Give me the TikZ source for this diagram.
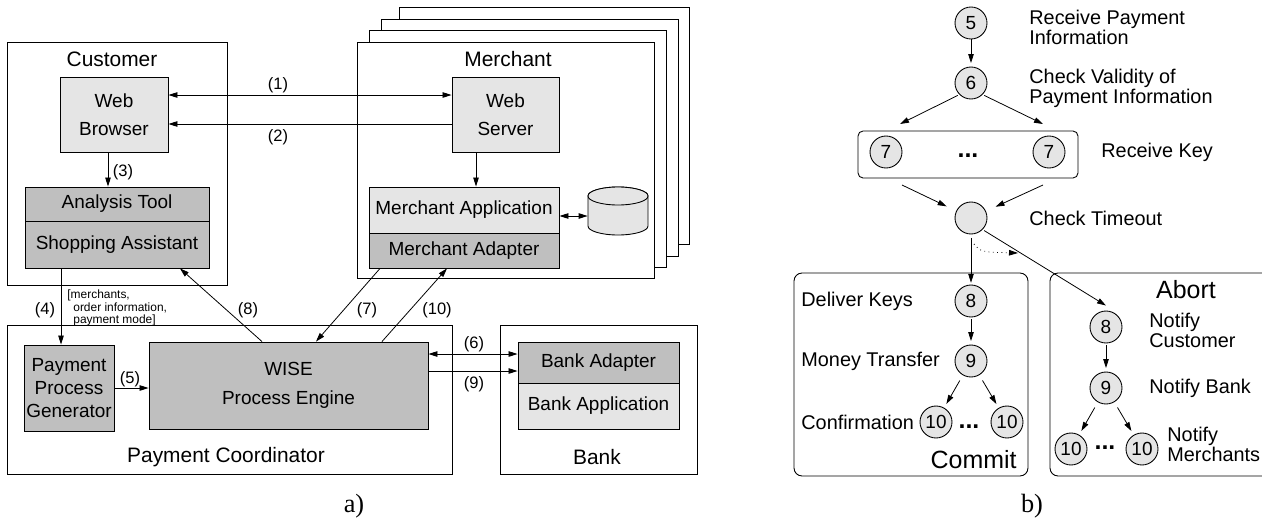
\documentclass[tikz,border=0pt]{standalone}
\usepackage{fontspec}
\setmainfont{Liberation Sans}
\newfontfamily\subfigfont{Liberation Serif}
\usetikzlibrary{arrows.meta}

\definecolor{boxlight}{gray}{0.9}
\definecolor{boxdark}{gray}{0.75}

\newcommand{\fsTitle}{\fontsize{11.9}{14}\selectfont}
\newcommand{\fsBox}{\fontsize{10.8}{16}\selectfont}
\newcommand{\fsStep}{\fontsize{9.4}{11}\selectfont}
\newcommand{\fsNote}{\fontsize{6.8}{7.1}\selectfont}
\newcommand{\fsFlow}{\fontsize{11.3}{11.4}\selectfont}
\newcommand{\fsBig}{\fontsize{14.2}{16}\selectfont}
\newcommand{\fsSub}{\fontsize{15}{17}\selectfont}

\tikzset{
  boxsize/.style 2 args={minimum width=#1, minimum height=#2},
  outerbox/.style={draw, line width=0.5pt, fill=white, inner sep=0pt},
  lightbox/.style={draw, line width=0.5pt, fill=boxlight, inner sep=0pt, font=\fsBox, align=center},
  darkbox/.style={draw, line width=0.5pt, fill=boxdark, inner sep=0pt, font=\fsBox, align=center},
  roundbox/.style={draw, line width=0.5pt, inner sep=0pt},
  steplbl/.style={font=\fsStep, inner sep=0pt},
  notelbl/.style={font=\fsNote, inner sep=0pt, align=left, anchor=west},
  stepnode/.style={circle, draw, line width=0.5pt, fill=boxlight, minimum size=0.64cm, inner sep=0pt, font=\fsBox},
  flowlbl/.style={font=\fsFlow, inner sep=0pt, align=left, anchor=west},
  dotslbl/.style={font=\fsBig\bfseries, inner sep=0pt}
}

\begin{document}
\begin{tikzpicture}[x=0.02cm, y=-0.02cm, >={Triangle[length=1.8mm, width=1.1mm]}, line width=0.45pt]
  \useasboundingbox (0,0) rectangle (1262,521);

  % Customer
  \node[outerbox, boxsize={4.4cm}{4.86cm}] (customer) at (117,163.5) {};
  \node[font=\fsTitle] (customertitle) at (112,59) {Customer};
  \node[lightbox, boxsize={2.16cm}{1.5cm}] (browser) at (114,114.5) {Web\\Browser};
  \node[darkbox, boxsize={3.68cm}{0.68cm}] (tool) at (117,204) {Analysis Tool};
  \node[darkbox, boxsize={3.68cm}{0.94cm}] (assistant) at (117,244.5) {Shopping Assistant};

  % Merchant (stacked)
  \foreach \i/\cx/\cy/\w in {4/544/125.5/5.8, 3/529.5/137.5/5.94, 2/517.5/149/5.94}
    \node[outerbox, boxsize={\w cm}{4.74cm}] (stack\i) at (\cx,\cy) {};
  \node[outerbox, boxsize={5.94cm}{4.72cm}] (merchant) at (505.5,160) {};
  \node[font=\fsTitle] (merchanttitle) at (508,59) {Merchant};
  \node[lightbox, boxsize={2.14cm}{1.5cm}] (server) at (505.5,114.5) {Web\\Server};
  \node[lightbox, boxsize={3.8cm}{0.92cm}] (app) at (464,210) {Merchant Application};
  \node[darkbox, boxsize={3.8cm}{0.7cm}] (madapter) at (464,250.5) {Merchant Adapter};
  \node[boxsize={1.2cm}{0.96cm}, inner sep=0pt] (db) at (618,216) {};
  \path[draw, line width=0.5pt, fill=boxlight] (588,196) -- (588,226)
    arc[start angle=180, end angle=360, x radius=0.6cm, y radius=0.18cm] -- (648,196)
    arc[start angle=0, end angle=180, x radius=0.6cm, y radius=0.18cm] -- cycle;
  \draw[line width=0.5pt, fill=boxlight] (618,196) ellipse[x radius=0.6cm, y radius=0.18cm];

  % Payment Coordinator
  \node[outerbox, boxsize={8.9cm}{2.98cm}] (coord) at (229.5,399.5) {};
  \node[font=\fsTitle] (coordtitle) at (226,457) {Payment Coordinator};
  \node[darkbox, boxsize={1.8cm}{1.72cm}, font=\fontsize{10.8}{13}\selectfont] (ppg) at (69,388) {Payment\\Process\\Generator};
  \node[darkbox, boxsize={5.58cm}{1.74cm}, font=\fontsize{10.8}{16.4}\selectfont] (wise) at (288.5,385.5) {WISE\\Process Engine};

  % Bank
  \node[outerbox, boxsize={3.94cm}{2.98cm}] (bank) at (598.5,399.5) {};
  \node[font=\fsTitle] (banktitle) at (597,457) {Bank};
  \node[darkbox, boxsize={3.22cm}{0.82cm}] (badapter) at (598.5,362.5) {Bank Adapter};
  \node[lightbox, boxsize={3.22cm}{0.92cm}] (bapp) at (598.5,406) {Bank Application};

  % Connectors a)
  \draw[<->] ([yshift=0.39cm]browser.east) -- ([yshift=0.39cm]server.west);
  \draw[->] ([yshift=-0.19cm]server.west) -- ([yshift=-0.19cm]browser.east);
  \draw[->] ([xshift=-0.12cm]browser.south) -- ([xshift=-0.12cm]browser.south |- tool.north);
  \draw[->] ([xshift=-0.59cm]server.south) -- ([xshift=-0.59cm]server.south |- app.north);
  \draw[<->] (app.east |- db) -- (db.west);
  \draw[->] ([xshift=-1.12cm]assistant.south) -- ([xshift=-1.12cm]assistant.south |- ppg.north);
  \draw[->] (ppg.east) -- (ppg.east -| wise.west);
  \draw[<->] ([yshift=0.63cm]wise.east) -- ([yshift=0.63cm]wise.east -| badapter.west);
  \draw[->] ([yshift=0.29cm]wise.east) -- ([yshift=0.29cm]wise.east -| badapter.west);
  \draw[->] ([xshift=-0.53cm]wise.north) -- ([xshift=1.26cm]assistant.south);
  \draw[->] ([xshift=-1.68cm]madapter.south) -- ([xshift=0.55cm]wise.north);
  \draw[->] ([xshift=1.87cm]wise.north) -- ([xshift=-0.34cm]madapter.south);

  % Labels a)
  \node[steplbl] (lbl1) at (278,85) {(1)};
  \node[steplbl] (lbl2) at (278,137) {(2)};
  \node[steplbl] (lbl3) at (123,172) {(3)};
  \node[steplbl] (lbl4) at (45,310) {(4)};
  \node[steplbl] (lbl5) at (130,379) {(5)};
  \node[steplbl] (lbl6) at (474,344) {(6)};
  \node[steplbl] (lbl7) at (367,310) {(7)};
  \node[steplbl] (lbl8) at (248,310) {(8)};
  \node[steplbl] (lbl9) at (474,384) {(9)};
  \node[steplbl] (lbl10) at (437,310) {(10)};
  \node[notelbl] (orderinfo) at (67,308) {[merchants,\\\hspace*{3.4pt}order information,\\\hspace*{3.4pt}payment mode]};
  \node[font=\subfigfont\fsSub] (suba) at (354,506) {a)};

  % Process b)
  \node[stepnode] (s5) at (971,23) {5};
  \node[flowlbl] (t5) at (1029,27) {Receive Payment\\Information};
  \node[stepnode] (s6) at (971,83) {6};
  \node[flowlbl] (t6) at (1029,88) {Check Validity of\\Payment Information};
  \node[roundbox, boxsize={4.4cm}{0.94cm}, rounded corners=0.1cm] (keys) at (968,154.5) {};
  \node[stepnode] (s7a) at (886,152) {7};
  \node[stepnode] (s7b) at (1049,152) {7};
  \node[dotslbl] (dots7) at (968,156) {...};
  \node[flowlbl] (t7) at (1101,152) {Receive Key};
  \node[stepnode] (timeout) at (971,218) {};
  \node[flowlbl] (ttimeout) at (1029,218) {Check Timeout};
  \coordinate (k1) at (900,124);
  \coordinate (k2) at (1043,124);
  \coordinate (k3) at (902,185);
  \coordinate (k4) at (1043,185);
  \coordinate (dotA) at (974,244);
  \coordinate (dotB) at (1018,253);

  % Commit
  \node[roundbox, boxsize={4.68cm}{4.06cm}, rounded corners=0.16cm] (commit) at (911,374.5) {};
  \node[stepnode] (c8) at (971,301) {8};
  \node[stepnode] (c9) at (971,361) {9};
  \node[stepnode] (c10a) at (936,422) {10};
  \node[stepnode] (c10b) at (1007,422) {10};
  \node[dotslbl] (dotsc) at (969,427) {...};
  \node[flowlbl] (tc8) at (801,301) {Deliver Keys};
  \node[flowlbl] (tc9) at (801,361) {Money Transfer};
  \node[flowlbl] (tc10) at (801,422) {Confirmation};
  \node[font=\fsBig, inner sep=0pt, anchor=east] (committitle) at (1017,460) {Commit};

  % Abort
  \node[roundbox, boxsize={4.8cm}{4.06cm}, rounded corners=0.16cm] (abort) at (1170,374.5) {};
  \node[font=\fsBig, inner sep=0pt] (aborttitle) at (1186,290) {Abort};
  \node[stepnode] (a8) at (1106,327) {8};
  \node[stepnode] (a9) at (1106,388) {9};
  \node[stepnode] (a10a) at (1071,449) {10};
  \node[stepnode] (a10b) at (1142,449) {10};
  \node[dotslbl] (dotsa) at (1105,448) {...};
  \node[flowlbl] (ta8) at (1149,330) {Notify\\Customer};
  \node[flowlbl] (ta9) at (1149,388) {Notify Bank};
  \node[flowlbl] (ta10) at (1167,444) {Notify\\Merchants};
  \node[font=\subfigfont\fsSub] (subb) at (1032,506) {b)};

  % Connectors b)
  \draw[->, shorten >=2pt] (s5) -- (s6);
  \draw[->, shorten <=1pt] (s6.south west) -- (k1);
  \draw[->, shorten <=1pt] (s6.south east) -- (k2);
  \draw[->, shorten >=6pt] (k3) -- (timeout);
  \draw[->, shorten >=6pt] (k4) -- (timeout);
  \draw[->, shorten <=2pt, shorten >=1pt] (timeout) -- (c8);
  \draw[->, shorten <=1pt] (timeout.south east) -- ([yshift=0.1cm]a8.north);
  \draw[->, dotted] (dotA) .. controls (981,252) .. (dotB);
  \draw[->, shorten <=1pt, shorten >=2pt] (c8) -- (c9);
  \draw[->, shorten <=3.5pt, shorten >=2.5pt] (c9) -- (c10a);
  \draw[->, shorten <=3.5pt, shorten >=2.5pt] (c9) -- (c10b);
  \draw[->, shorten <=1pt, shorten >=2pt] (a8) -- (a9);
  \draw[->, shorten <=3.5pt, shorten >=2.5pt] (a9) -- (a10a);
  \draw[->, shorten <=3.5pt, shorten >=2.5pt] (a9) -- (a10b);
\end{tikzpicture}
\end{document}
